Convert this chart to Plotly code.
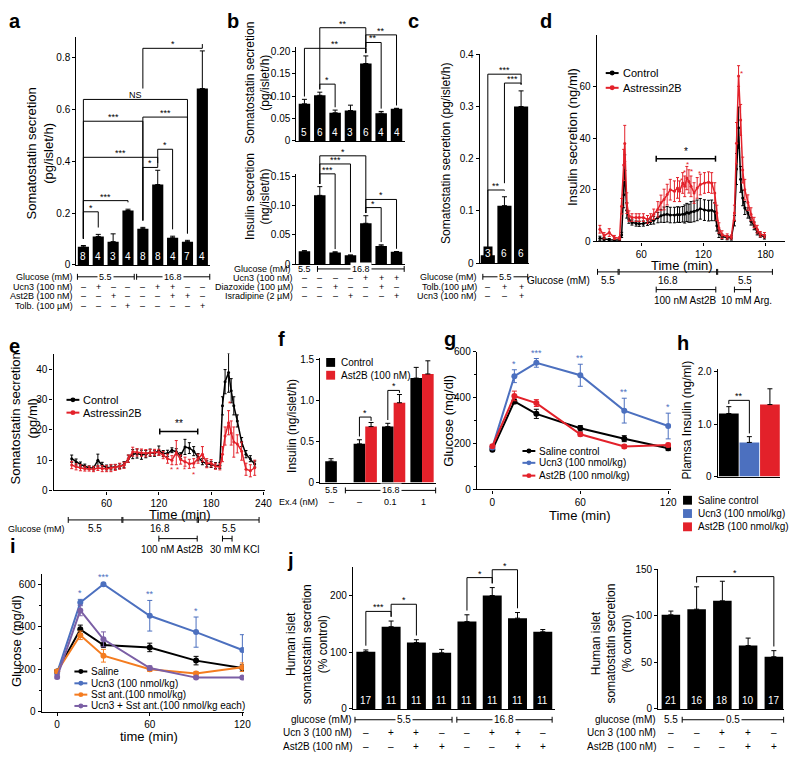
import plotly.graph_objects as go

W, H = 800, 764
OFF = 8  # the page body adds an 8px margin around the figure
FONT = "Liberation Sans, Arial, sans-serif"
BLUE = "#4c70bf"
RED = "#e3212a"
ORANGE = "#f47c20"
PURPLE = "#7b5fa5"

# ---- a: somatostatin secretion (pg/islet/h)
a_val = [0.07, 0.11, 0.09, 0.21, 0.14, 0.31, 0.105, 0.09, 0.68]
a_err = [0.005, 0.008, 0.03, 0.005, 0.005, 0.055, 0.006, 0.005, 0.145]
a_n = ["8", "4", "3", "4", "8", "8", "4", "7", "4"]
a_ucn3 = ["–", "+", "–", "–", "–", "+", "+", "–", "–"]
a_ast2b = ["–", "–", "+", "–", "–", "–", "+", "+", "–"]
a_tolb = ["–", "–", "–", "+", "–", "–", "–", "–", "+"]

# ---- b: somatostatin (top) and insulin (bottom)
bt_val = [0.083, 0.102, 0.063, 0.068, 0.173, 0.062, 0.072]
bt_err = [0.01, 0.007, 0.006, 0.012, 0.017, 0.004, 0.001]
bt_n = ["5", "6", "4", "3", "6", "4", "4"]
bb_val = [0.022, 0.118, 0.020, 0.015, 0.070, 0.031, 0.021]
bb_err = [0.001, 0.015, 0.001, 0.0005, 0.013, 0.002, 0.0005]
b_ucn3 = ["–", "–", "–", "–", "+", "+", "+"]
b_diaz = ["–", "–", "+", "–", "–", "+", "–"]
b_isra = ["–", "–", "–", "+", "–", "–", "+"]

# ---- c
c_val = [0.015, 0.11, 0.30]
c_err = [0.001, 0.017, 0.03]
c_n = ["3", "6", "6"]
c_tolb = ["–", "+", "+"]
c_ucn3 = ["–", "–", "+"]

# ---- d: insulin perifusion (ng/ml)
d_time = [20, 24, 29, 34, 39, 41, 43, 44, 46, 48, 51, 55, 58, 62, 66, 69, 72, 76, 79, 82,
          85, 88, 92, 95, 97, 100, 102, 104, 106, 108, 111, 114, 117, 121, 125, 128, 131, 133, 135, 138,
          143, 147, 150, 152, 154, 156, 158, 160, 163, 166, 169, 172, 175, 179]
d_ctrl = [1.2, 0.9, 0.6, 0.5, 0.5, 2.5, 18, 27.5, 12, 8.5,
          7.3, 6.9, 6.8, 6.9, 7.2, 7.6, 8.2, 9.2, 9.9, 10.3,
          10.5, 10.2, 10.2, 10.4, 10.3, 10.5, 10.6, 11.2, 10.9, 11.4,
          11.6, 12.0, 12.6, 12.1, 11.9, 12.0, 11.5, 6.0, 3.0, 1.8,
          1.4, 1.3, 8.0, 28, 44, 24, 16.8, 12.9, 11.0, 7.8,
          6.0, 3.5, 2.4, 1.7]
d_ctrl_err = [0.8, 0.6, 0.5, 0.4, 0.4, 1.0, 5, 6, 3, 1.5,
              1.0, 1.0, 1.0, 1.0, 1.0, 1.0, 1.5, 2.0, 2.5, 3.0,
              3.0, 3.0, 3.0, 3.0, 3.0, 3.0, 3.5, 3.5, 3.5, 4.0,
              4.0, 4.0, 4.0, 4.0, 4.0, 4.0, 3.5, 2.0, 1.5, 1.0,
              0.8, 0.8, 2.0, 6.0, 8.0, 5.0, 3.0, 2.5, 2.0, 1.5,
              1.5, 1.0, 0.8, 0.8]
d_ast = [4.7, 2.2, 3.4, 1.5, 1.2, 13.6, 29.6, 37.9, 14.8, 9.8,
         9.2, 9.2, 9.2, 9.2, 8.5, 9.2, 10.5, 12.4, 14.9, 16.2,
         18.1, 20.0, 19.4, 20.7, 19.4, 22.6, 21.3, 24.5, 23.2, 21.3,
         18.7, 20.7, 22.0, 22.6, 22.9, 22.6, 18.7, 11.0, 5.2, 2.6,
         1.9, 1.7, 11.0, 38, 64, 47, 27.6, 20.0, 15.0, 10.5,
         7.3, 4.7, 2.8, 2.4]
d_ast_err = [1.5, 1.2, 1.5, 0.8, 0.6, 3, 6, 7, 4, 2,
             1.5, 1.5, 1.5, 1.5, 1.5, 1.5, 2, 3, 3, 4,
             4, 4, 4, 4, 4, 4, 4, 4.5, 4.5, 4,
             4, 4, 4, 4, 4, 4, 4, 3, 2, 1.5,
             1, 0.8, 3, 8, 4, 6, 5, 4, 3, 2.5,
             2, 1.5, 1, 1]

# ---- e: somatostatin perifusion (pg/ml)
e_time = [20, 25, 30, 35, 40, 45, 50, 55, 60, 65, 70, 75, 80, 85, 90, 95, 100, 105, 110, 115,
          120, 125, 130, 135, 140, 145, 150, 155, 160, 165, 170, 175, 180, 185, 190,
          193, 196, 200, 203, 206, 210, 215, 220, 225, 230]
e_ctrl = [10.5, 9.4, 8.6, 8.0, 7.5, 7.4, 10.0, 8.3, 7.6, 7.6,
          7.8, 8.0, 8.5, 10.5, 12.0, 12.2, 11.8, 12.0, 12.5, 12.3,
          13.2, 12.2, 12.3, 13.3, 12.8, 11.5, 14.4, 14.0, 13.0, 11.0,
          9.5, 8.8, 8.6, 8.2, 8.3, 28.0, 36.0, 39.0, 33.0, 28.0,
          23.0, 16.0, 12.0, 10.5, 8.7]
e_ctrl_err = [1.2, 1, 0.8, 0.7, 0.6, 0.6, 2.0, 1.0, 0.8, 0.8,
              0.8, 0.8, 1.0, 1.2, 1.5, 1.5, 1.5, 1.2, 1.2, 1.0,
              1.5, 1.0, 1.0, 0.8, 1.0, 1.0, 2.5, 1.8, 1.5, 1.2,
              1.0, 1.0, 1.0, 1.0, 1.0, 3.0, 4.0, 6.5, 4.0, 3.0,
              2.0, 1.5, 1.2, 1.0, 1.0]
e_ast = [8.4, 7.8, 7.5, 7.2, 7.2, 7.0, 7.4, 7.2, 7.2, 7.4,
         7.6, 8.0, 8.3, 10.5, 12.8, 12.6, 12.5, 12.3, 12.5, 12.6,
         12.6, 11.7, 10.5, 10.0, 12.5, 10.2, 9.5, 8.8, 9.0, 10.5,
         12.0, 9.0, 9.0, 8.0, 7.8, 12.0, 18.0, 22.4, 19.0, 16.0,
         15.4, 13.0, 7.0, 6.5, 7.5]
e_ast_err = [1.2, 1, 1, 0.8, 0.8, 0.8, 0.8, 1, 1, 1.2,
             1, 1, 1, 1.2, 1.5, 1.2, 1.2, 1.2, 1.0, 1.0,
             1.0, 1.2, 1.5, 1.5, 4.0, 1.5, 1.5, 1.5, 1.5, 1.5,
             2.5, 1.5, 1.2, 1.0, 1.0, 2.5, 3.0, 4.0, 4.0, 5.0,
             3.0, 3.0, 2.0, 2.0, 2.5]

# ---- f: insulin (ng/islet/h), control vs Ast2B
f_ctrl = [0.26, 0.47, 0.68, 1.27]
f_ctrl_err = [0.03, 0.05, 0.04, 0.13]
f_ast = [None, 0.68, 0.97, 1.32]
f_ast_err = [0, 0.05, 0.10, 0.16]
f_ex4 = ["–", "–", "0.1", "1"]

# ---- g: glucose (mg/dl)
g_time = [0, 15, 30, 60, 90, 120]
g_saline = [173, 383, 329, 266, 221, 179]
g_saline_err = [6, 10, 20, 12, 13, 10]
g_ucn3 = [183, 493, 551, 497, 343, 276]
g_ucn3_err = [6, 28, 19, 48, 54, 56]
g_ast = [188, 407, 376, 240, 187, 193]
g_ast_err = [6, 21, 15, 8, 8, 8]
g_stars = ["", "*", "***", "**", "**", "*"]

# ---- h: plasma insulin (ng/ml)
h_val = [1.2, 0.65, 1.37]
h_err = [0.13, 0.11, 0.3]
h_names = ["Saline control", "Ucn3 (100 nmol/kg)", "Ast2B (100 nmol/kg)"]

# ---- i: glucose (mg/dl)
i_time = [0, 15, 30, 60, 90, 120]
i_saline = [190, 388, 314, 303, 241, 206]
i_saline_err = [8, 20, 10, 20, 20, 15]
i_ucn3 = [184, 514, 600, 452, 375, 291]
i_ucn3_err = [8, 15, 5, 72, 71, 72]
i_sst = [190, 360, 264, 200, 180, 210]
i_sst_err = [8, 20, 30, 10, 10, 20]
i_combo = [164, 477, 341, 206, 161, 161]
i_combo_err = [8, 25, 35, 10, 5, 5]
i_stars = ["", "*", "***", "**", "*", ""]

# ---- j: human islet somatostatin secretion (% control)
jl_val = [101, 145, 117, 99, 154, 200, 160, 136]
jl_err = [3, 10, 5, 6, 12, 14, 10, 4]
jl_n = ["17", "11", "11", "11", "11", "11", "11", "11"]
jl_ucn3 = ["–", "+", "+", "–", "–", "+", "+", "–"]
jl_ast2b = ["–", "–", "+", "+", "–", "–", "+", "+"]
jr_val = [101, 107, 116, 68, 56]
jr_err = [4, 24, 21, 8, 6.5]
jr_n = ["21", "16", "18", "10", "17"]
jr_ucn3 = ["–", "–", "+", "+", "–"]
jr_ast2b = ["–", "–", "–", "+", "+"]

# ---------------- panel boxes on screen (left, right, top, bottom in px)
P = {
    "a": dict(n=1, box=(77, 212, 31, 263), xr=(-0.47, 8.53), yr=(0, 0.88)),
    "bt": dict(n=2, box=(299, 408, 41.5, 137), xr=(-0.52, 6.52), yr=(0, 0.21)),
    "bb": dict(n=3, box=(299, 408, 170.4, 262), xr=(-0.52, 6.52), yr=(0, 0.155)),
    "c": dict(n=4, box=(484, 534, 49, 261), xr=(-0.48, 2.5), yr=(0, 0.4)),
    "d": dict(n=5, box=(602, 792, 29, 239), xr=(17, 199), yr=(0, 80)),
    "e": dict(n=6, box=(54, 267, 353, 492), xr=(-0.8, 241.5), yr=(0, 45.3)),
    "f": dict(n=7, box=(323, 440, 357, 484), xr=(-0.585, 3.5), yr=(0, 1.52)),
    "g": dict(n=8, box=(481, 677, 351, 491), xr=(-10.6, 122), yr=(0, 600)),
    "h": dict(n=9, box=(724, 787, 369, 478), xr=(-0.54, 2.5), yr=(0, 2.04)),
    "i": dict(n=10, box=(42, 246, 577, 717), xr=(-10, 121), yr=(0, 648)),
    "jl": dict(n=11, box=(356, 560, 570, 714), xr=(-0.51, 7.49), yr=(0, 250)),
    "jr": dict(n=12, box=(664, 791, 572, 714), xr=(-0.49, 4.4), yr=(0, 150)),
}


def sfx(k):
    n = P[k]["n"]
    return "" if n == 1 else str(n)


def PX(x):
    return (x - OFF) / W


def PY(y):
    return 1 - (y - OFF) / H


def X(k, v):
    l, r, t, b = P[k]["box"]
    x0, x1 = P[k]["xr"]
    return PX(l + (v - x0) / (x1 - x0) * (r - l))


def Y(k, v):
    l, r, t, b = P[k]["box"]
    y0, y1 = P[k]["yr"]
    return PY(b - (v - y0) / (y1 - y0) * (b - t))


shapes = []
ann = []


def line(x0, y0, x1, y1, color="black", w=1):
    shapes.append(dict(type="line", xref="paper", yref="paper", x0=x0, y0=y0, x1=x1, y1=y1,
                       line=dict(color=color, width=w)))


def text(x, y, s, size=9, color="black", xanchor="center", yanchor="middle", angle=0,
         bold=False, bg=None, xref="paper", yref="paper", yshift=0):
    if bold:
        s = "<b>" + s + "</b>"
    d = dict(x=x, y=y, xref=xref, yref=yref, text=s, showarrow=False, xanchor=xanchor,
             yanchor=yanchor, textangle=angle, yshift=yshift,
             font=dict(size=size, color=color, family=FONT), borderpad=0)
    if bg:
        d["bgcolor"] = bg
        d["borderpad"] = 1
    ann.append(d)


def bracket(k, i, j, y, s, tops, li=None, lj=None, color="black"):
    pad = 0.03 * (P[k]["yr"][1] - P[k]["yr"][0])
    yi = li if li is not None else tops[i] + pad
    yj = lj if lj is not None else tops[j] + pad
    xi, xj, yt = X(k, i), X(k, j), Y(k, y)
    shapes.append(dict(type="path", xref="paper", yref="paper",
                       path=f"M {xi},{Y(k, yi)} L {xi},{yt} L {xj},{yt} L {xj},{Y(k, yj)}",
                       line=dict(color=color, width=1)))
    text((xi + xj) / 2, yt, s, size=9, color=color, yanchor="bottom", yshift=-2)


def rbar(k, x0, x1, ypx, s=None, tick=3, size=9):
    xa, xb, y = X(k, x0), X(k, x1), PY(ypx)
    dy = tick / H
    line(xa, y, xb, y)
    line(xa, y - dy, xa, y + dy)
    line(xb, y - dy, xb, y + dy)
    if s:
        text((xa + xb) / 2, y, s, size=size, bg="white")


def row(k, ypx, label, marks, xs=None, size=9, gap=2):
    text(PX(P[k]["box"][0] - gap), PY(ypx), label, size=size, xanchor="right")
    for idx, m in enumerate(marks):
        text(X(k, xs[idx] if xs else idx), PY(ypx), m, size=size)


def nlabels(k, labels, size=10, bg=None):
    b = P[k]["box"][3]
    for idx, s in enumerate(labels):
        text(X(k, idx), PY(b - 2), s, size=size, color="white", yanchor="bottom", bg=bg)


def ytitle(xpx, ypx, s, size=13):
    text(PX(xpx), PY(ypx), s, size=size, angle=-90)


def leg_line(xpx, ypx, color, s, size=10, r=2.5, length=13):
    line(PX(xpx), PY(ypx), PX(xpx + length), PY(ypx), color=color, w=2)
    cx = xpx + length / 2
    shapes.append(dict(type="circle", xref="paper", yref="paper", x0=PX(cx - r), x1=PX(cx + r),
                       y0=PY(ypx + r), y1=PY(ypx - r), fillcolor=color, line=dict(width=0)))
    text(PX(xpx + length + 3), PY(ypx), s, size=size, xanchor="left")


def leg_box(xpx, ypx, color, s, size=10, a=9):
    shapes.append(dict(type="rect", xref="paper", yref="paper", x0=PX(xpx), x1=PX(xpx + a),
                       y0=PY(ypx + a / 2), y1=PY(ypx - a / 2), fillcolor=color, line=dict(width=0)))
    text(PX(xpx + a + 5), PY(ypx), s, size=size, xanchor="left")


fig = go.Figure()


def bars(k, y, err, color="black", width=0.75, x=None, offset=None, ecolor="black"):
    s = sfx(k)
    xs = x if x is not None else list(range(len(y)))
    fig.add_trace(go.Bar(x=xs, y=y, width=width, offset=offset,
                         marker=dict(color=color, line=dict(width=0)),
                         error_y=dict(type="data", symmetric=False, array=err,
                                      arrayminus=[0] * len(err), thickness=1, width=2.5,
                                      color=ecolor),
                         xaxis="x" + s, yaxis="y" + s))


def series(k, x, y, err, color, lw=1.5, ms=3.5, ew=1.5):
    s = sfx(k)
    fig.add_trace(go.Scatter(x=x, y=y, mode="lines+markers",
                             line=dict(color=color, width=lw),
                             marker=dict(color=color, size=ms),
                             error_y=dict(type="data", array=err, thickness=1, width=ew, color=color),
                             xaxis="x" + s, yaxis="y" + s))


# ---------------- a
bars("a", a_val, a_err)
a_tops = [v + e for v, e in zip(a_val, a_err)]
nlabels("a", a_n)
bracket("a", 0, 1, 0.205, "*", a_tops)
bracket("a", 0, 3, 0.248, "***", a_tops)
bracket("a", 0, 5, 0.415, "***", a_tops)
bracket("a", 4, 5, 0.376, "*", a_tops)
bracket("a", 5, 6, 0.446, "*", a_tops)
bracket("a", 0, 4, 0.554, "***", a_tops)
bracket("a", 4, 7, 0.57, "***", a_tops)
bracket("a", 0, 7, 0.638, "NS", a_tops)
bracket("a", 4, 8, 0.835, "*", a_tops, li=0.68)
rbar("a", -0.4, 3.42, 275, "5.5")
rbar("a", 3.58, 8.5, 275, "16.8")
text(PX(75), PY(275), "Glucose (mM)", size=9, xanchor="right")
row("a", 285, "Ucn3 (100 nM)", a_ucn3)
row("a", 295, "Ast2B (100 nM)", a_ast2b)
row("a", 305, "Tolb. (100 µM)", a_tolb)
ytitle(40, 150, "Somatostatin secretion<br>(pg/islet/h)", 13)

# ---------------- b
bars("bt", bt_val, bt_err)
bt_tops = [v + e for v, e in zip(bt_val, bt_err)]
nlabels("bt", bt_n)
bracket("bt", 0, 4, 0.207, "**", bt_tops)
bracket("bt", 1, 4, 0.253, "**", bt_tops, lj=0.21)
bracket("bt", 4, 6, 0.237, "**", bt_tops)
bracket("bt", 4, 5, 0.22, "**", bt_tops)
bracket("bt", 1, 2, 0.127, "*", bt_tops)
bars("bb", bb_val, bb_err)
bb_tops = [v + e for v, e in zip(bb_val, bb_err)]
bracket("bb", 1, 4, 0.186, "*", bb_tops)
bracket("bb", 1, 3, 0.172, "***", bb_tops)
bracket("bb", 1, 2, 0.155, "***", bb_tops)
bracket("bb", 4, 6, 0.111, "*", bb_tops)
bracket("bb", 4, 5, 0.097, "*", bb_tops)
text(X("bb", 0), PY(267), "5.5", size=9)
rbar("bb", 0.85, 6.5, 267, "16.8")
text(PX(295), PY(267), "Glucose (mM)", size=9, xanchor="right")
row("bb", 276, "Ucn3 (100 nM)", b_ucn3)
row("bb", 285, "Diazoxide (100 µM)", b_diaz)
row("bb", 295, "Isradipine (2 µM)", b_isra)
ytitle(260, 78, "Somatostatin secretion<br>(pg/islet/h)", 12)
ytitle(260, 193, "Insulin secretion<br>(ng/islet/h)", 12)

# ---------------- c
bars("c", c_val, c_err, width=0.85)
c_tops = [v + e for v, e in zip(c_val, c_err)]
nlabels("c", c_n, bg="black")
bracket("c", 0, 2, 0.362, "***", c_tops)
bracket("c", 1, 2, 0.345, "***", c_tops, li=0.153)
bracket("c", 0, 1, 0.14, "**", c_tops)
rbar("c", -0.3, 2.4, 275, "5.5")
text(PX(482), PY(275), "Glucose (mM)", size=9, xanchor="right")
row("c", 285, "Tolb.(100 µM)", c_tolb)
row("c", 295, "Ucn3 (100 nM)", c_ucn3)
ytitle(450, 150, "Somatostatin secretion (pg/islet/h)", 12)

# ---------------- d
series("d", d_time, d_ctrl, d_ctrl_err, "black", lw=1.5, ms=3)
series("d", d_time, d_ast, d_ast_err, RED, lw=1.5, ms=3)
for t, v in [(98.7, 23.6), (101.3, 26.8), (105.1, 29.8), (108.6, 27.2), (116.6, 26.3), (156.6, 65)]:
    text(t, v, "*", size=8, color=RED, xref="x5", yref="y5")
dx0, dx1, dy = X("d", 74.4), X("d", 131.7), Y("d", 32)
line(dx0, dy, dx1, dy, w=1.5)
line(dx0, dy - 3 / H, dx0, dy + 3 / H, w=1.5)
line(dx1, dy - 3 / H, dx1, dy + 3 / H, w=1.5)
text((dx0 + dx1) / 2, dy, "*", size=10, yanchor="bottom", yshift=1)
leg_line(611, 68, "black", "Control", size=11)
leg_line(611, 83, RED, "Astressin2B", size=11)
ytitle(577, 133, "Insulin secretion (ng/ml)", 13)
text(PX(688), PY(264), "Time (min)", size=13)
rbar("d", 17.7, 37.6, 270)
rbar("d", 38.6, 132.8, 270)
rbar("d", 133.8, 186.7, 270)
text(PX(596), PY(279), "Glucose (mM)", size=10, xanchor="right")
text(X("d", 27.7), PY(279), "5.5", size=10)
text(X("d", 85.7), PY(279), "16.8", size=10)
text(X("d", 160), PY(279), "5.5", size=10)
rbar("d", 74.4, 132, 288)
rbar("d", 150, 165.6, 288)
text(X("d", 103), PY(299), "100 nM Ast2B", size=10)
text(X("d", 162), PY(299), "10 mM Arg.", size=10)

# ---------------- e
series("e", e_time, e_ctrl, e_ctrl_err, "black", lw=1.5, ms=3)
series("e", e_time, e_ast, e_ast_err, RED, lw=1.5, ms=3)
for t, v in [(200.7, 28.9), (134, 6.8), (141, 6.8), (149, 6.8), (160, 5.2)]:
    text(t, v, "*", size=8, color=RED, xref="x6", yref="y6")
ex0, ex1, ey = X("e", 121), X("e", 164.6), Y("e", 19.5)
line(ex0, ey, ex1, ey, w=1.5)
line(ex0, ey - 3 / H, ex0, ey + 3 / H, w=1.5)
line(ex1, ey - 3 / H, ex1, ey + 3 / H, w=1.5)
text((ex0 + ex1) / 2, ey, "**", size=10, yanchor="bottom", yshift=2)
leg_line(67, 400, "black", "Control", size=11)
leg_line(67, 413, RED, "Astressin2B", size=11)
ytitle(24, 419, "Somatostatin secretion<br>(pg/ml)", 13)
text(PX(182), PY(516), "Time (min)", size=13)
rbar("e", 16, 77.6, 522)
rbar("e", 78.7, 164, 522)
rbar("e", 165.4, 235, 522)
text(PX(67), PY(531), "Glucose (mM)", size=9, xanchor="right")
text(X("e", 46.8), PY(531), "5.5", size=10)
text(X("e", 121.4), PY(531), "16.8", size=10)
text(X("e", 200), PY(531), "5.5", size=10)
rbar("e", 120, 164, 541)
rbar("e", 193, 204, 541)
text(X("e", 136), PY(552), "100 nM Ast2B", size=10)
text(X("e", 206.5), PY(552), "30 mM KCl", size=10)

# ---------------- f
bars("f", f_ctrl, f_ctrl_err, width=0.41, offset=-0.41)
bars("f", f_ast, f_ast_err, color=RED, width=0.41, offset=0)
f_ctops = [v + e for v, e in zip(f_ctrl, f_ctrl_err)]
for g, yb in [(1, 0.796), (2, 1.12)]:
    xa, xb = X("f", g - 0.205), X("f", g + 0.205)
    yt = Y("f", yb)
    shapes.append(dict(type="path", xref="paper", yref="paper",
                       path=f"M {xa},{Y('f', f_ctops[g] + 0.04)} L {xa},{yt} L {xb},{yt} L {xb},{Y('f', f_ast[g] + f_ast_err[g] + 0.02)}",
                       line=dict(color="black", width=1)))
    text((xa + xb) / 2, yt, "*", size=9, yanchor="bottom", yshift=-2)
leg_box(329, 362, "black", "Control", size=10)
leg_box(329, 375, RED, "Ast2B (100 nM)", size=10)
text(X("f", -0.205), PY(492), "5.5", size=9)
rbar("f", 0.3, 3.48, 492, "16.8")
row("f", 504, "Ex.4 (nM)", f_ex4, xs=[-0.205, 0.8, 1.9, 3.05], gap=1)
ytitle(295, 426, "Insulin (ng/islet/h)", 12)

# ---------------- g
series("g", g_time, g_saline, g_saline_err, "black", lw=2, ms=6, ew=2.5)
series("g", g_time, g_ucn3, g_ucn3_err, BLUE, lw=2, ms=6, ew=2.5)
series("g", g_time, g_ast, g_ast_err, RED, lw=2, ms=6, ew=2.5)
for t, v, e, s in zip(g_time, g_ucn3, g_ucn3_err, g_stars):
    if s:
        text(t, v + e, s, size=9, color=BLUE, xref="x8", yref="y8", yanchor="bottom", yshift=0)
leg_line(527, 452, "black", "Saline control", size=10)
leg_line(527, 464, BLUE, "Ucn3 (100 nmol/kg)", size=10)
leg_line(527, 477, RED, "Ast2B (100 nmol/kg)", size=10)
ytitle(452, 421, "Glucose (mg/dl)", 13)
text(PX(585), PY(517), "Time (min)", size=13)

# ---------------- h
bars("h", h_val, h_err, color=["black", BLUE, RED], width=0.96)
h_tops = [v + e for v, e in zip(h_val, h_err)]
bracket("h", 0, 1, 1.45, "**", h_tops, li=1.38)
for idx, (c, s) in enumerate(zip(["black", BLUE, RED], h_names)):
    leg_box(689, 502 + idx * 13.5, c, s, size=10)
ytitle(693, 421, "Plamsa Insulin (ng/ml)", 12)

# ---------------- i
series("i", i_time, i_saline, i_saline_err, "black", lw=2, ms=6, ew=2.5)
series("i", i_time, i_ucn3, i_ucn3_err, BLUE, lw=2, ms=6, ew=2.5)
series("i", i_time, i_sst, i_sst_err, ORANGE, lw=2, ms=6, ew=2.5)
series("i", i_time, i_combo, i_combo_err, PURPLE, lw=2, ms=6, ew=2.5)
for t, v, e, s in zip(i_time, i_ucn3, i_ucn3_err, i_stars):
    if s:
        text(t, v + e, s, size=9, color=BLUE, xref="x10", yref="y10", yanchor="bottom", yshift=0)
leg_line(75, 676, "black", "Saline", size=10)
leg_line(75, 688, BLUE, "Ucn3 (100 nmol/kg)", size=10)
leg_line(75, 699.5, ORANGE, "Sst ant.(100 nmol/kg)", size=10)
leg_line(75, 711, PURPLE, "Ucn3 + Sst ant.(100 nmol/kg each)", size=10)
ytitle(17, 645, "Glucose (mg/dl)", 13)
text(PX(150), PY(742), "time (min)", size=13)

# ---------------- j
bars("jl", jl_val, jl_err)
jl_tops = [v + e for v, e in zip(jl_val, jl_err)]
nlabels("jl", jl_n)
bracket("jl", 0, 1, 172, "***", jl_tops)
bracket("jl", 1, 2, 184.6, "*", jl_tops)
bracket("jl", 4, 5, 231.6, "*", jl_tops)
bracket("jl", 5, 6, 245.5, "*", jl_tops)
rbar("jl", -0.43, 3.41, 725, "5.5", size=10)
rbar("jl", 3.6, 7.37, 725, "16.8", size=10)
text(PX(356), PY(725), "glucose (mM)", size=10, xanchor="right")
row("jl", 738, "Ucn 3 (100 nM)", jl_ucn3, size=10, gap=0)
row("jl", 752.5, "Ast2B (100 nM)", jl_ast2b, size=10, gap=0)
ytitle(310, 648, "Human islet<br>somatostatin secretion<br>(% control)", 12)

bars("jr", jr_val, jr_err, width=0.72)
jr_tops = [v + e for v, e in zip(jr_val, jr_err)]
nlabels("jr", jr_n)
bracket("jr", 1, 4, 142, "*", jr_tops)
text(X("jr", 0), PY(725), "5.5", size=10)
rbar("jr", 0.44, 4.38, 725, "0.5", size=10)
text(PX(663), PY(725), "glucose (mM)", size=10, xanchor="right")
row("jr", 738, "Ucn 3 (100 nM)", jr_ucn3, size=10, gap=1)
row("jr", 752.5, "Ast2B (100 nM)", jr_ast2b, size=10, gap=1)
ytitle(617, 648, "Human islet<br>somatostatin secretion<br>(% control)", 12)

# panel letters
for s, xp, yp in [("a", 15, 15), ("b", 235, 15), ("c", 417, 15), ("d", 551, 15),
                  ("e", 15, 345), ("f", 284, 338), ("g", 454, 338), ("h", 689, 342),
                  ("i", 13, 548), ("j", 293, 563)]:
    text(PX(xp), PY(yp), s, size=20, bold=True)

# ---------------- axes
layout = dict(width=W, height=H, margin=dict(l=0, r=0, t=0, b=0),
              paper_bgcolor="white", plot_bgcolor="white", showlegend=False,
              barmode="overlay", font=dict(family=FONT, color="black"))
style = dict(showline=True, linecolor="black", linewidth=1.3, showgrid=False, zeroline=False,
             ticks="outside", ticklen=3, tickwidth=1, tickcolor="black",
             tickfont=dict(size=10, family=FONT, color="black"))
for k, p in P.items():
    s = sfx(k)
    l, r, t, b = p["box"]
    layout["xaxis" + s] = dict(domain=[PX(l), PX(r)], range=list(p["xr"]), anchor="y" + s, **style)
    layout["yaxis" + s] = dict(domain=[PY(b), PY(t)], range=list(p["yr"]), anchor="x" + s, **style)

for k in ["a", "bt", "bb", "c", "f", "h", "jl", "jr"]:
    layout["xaxis" + sfx(k)].update(ticks="", showticklabels=False)

layout["yaxis"].update(tickvals=[0, 0.2, 0.4, 0.6, 0.8], ticktext=["0", "0.2", "0.4", "0.6", "0.8"])
layout["yaxis2"].update(tickvals=[0, 0.05, 0.1, 0.15, 0.2], ticktext=["0", "0.05", "0.10", "0.15", "0.20"])
layout["yaxis3"].update(tickvals=[0, 0.05, 0.1, 0.15], ticktext=["0", "0.05", "0.10", "0.15"])
layout["yaxis4"].update(tickvals=[0, 0.1, 0.2, 0.3, 0.4], ticktext=["0", "0.1", "0.2", "0.3", "0.4"])
layout["xaxis5"].update(tickvals=[60, 120, 180])
layout["yaxis5"].update(tickvals=[0, 20, 40, 60])
layout["xaxis6"].update(tickvals=[60, 120, 180, 240])
layout["yaxis6"].update(tickvals=[0, 10, 20, 30, 40])
layout["yaxis7"].update(tickvals=[0, 0.5, 1.0, 1.5], ticktext=["0", "0.5", "1.0", "1.5"])
layout["xaxis8"].update(tickvals=[0, 60, 120])
layout["yaxis8"].update(tickvals=[0, 200, 400, 600],
                        minor=dict(tickvals=[100, 300, 500], ticks="outside", ticklen=2, tickcolor="black"))
layout["yaxis9"].update(tickvals=[0, 1, 2], ticktext=["0", "1.0", "2.0"])
layout["xaxis10"].update(tickvals=[0, 60, 120])
layout["yaxis10"].update(tickvals=[0, 200, 400, 600],
                         minor=dict(tickvals=[100, 300, 500], ticks="outside", ticklen=2, tickcolor="black"))
layout["yaxis11"].update(tickvals=[0, 100, 200])
layout["yaxis12"].update(tickvals=[0, 50, 100, 150])

layout["shapes"] = shapes
layout["annotations"] = ann
fig.update_layout(**layout)
fig.write_html("out.html")
